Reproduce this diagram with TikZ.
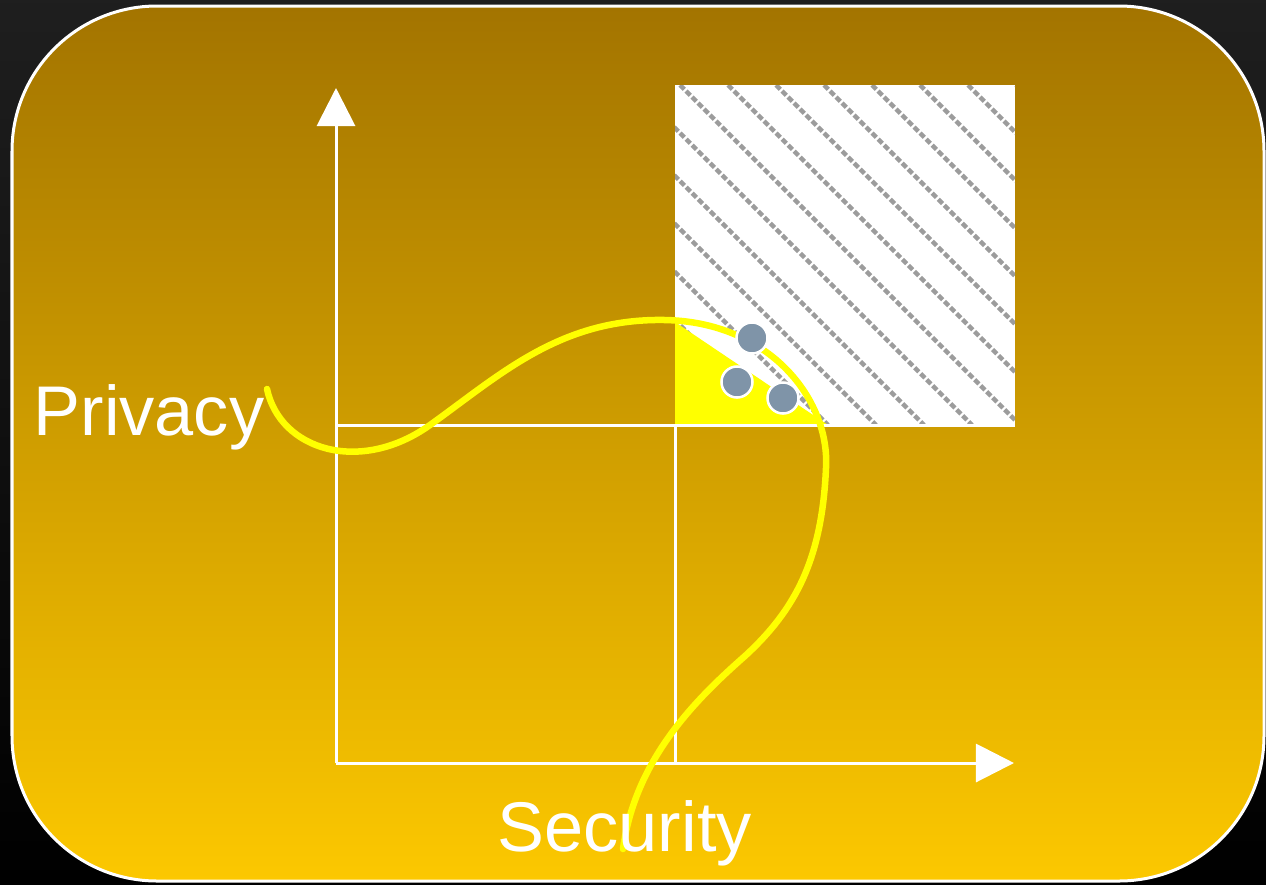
\documentclass[tikz,border=0pt]{standalone}
\usepackage{fontspec}
\setmainfont{Liberation Sans}
\usepackage{xcolor}
\definecolor{gtop}{HTML}{A37400}
\definecolor{gbot}{HTML}{FCC800}
\definecolor{dot}{HTML}{7F94A8}
\definecolor{hatch}{HTML}{9C9C9C}
\definecolor{curve}{HTML}{FFFF00}
\usetikzlibrary{arrows.meta,positioning,calc}

\begin{document}
\begin{tikzpicture}[
  x=0.01cm, y=-0.01cm, >={Triangle[length=0.38cm,width=0.38cm]},
  axis/.style={draw=white, line width=0.03cm},
  label/.style={text=white, font=\fontsize{20}{24}\selectfont, inner sep=0pt},
  point/.style={circle, draw=white, line width=0.025cm, fill=dot, minimum size=0.31cm, inner sep=0pt},
  hline/.style={draw=hatch, line width=0.045cm, dash pattern=on 0.06cm off 0.025cm},
]
  % background and panel
  \shade[top color=black!88, bottom color=black] (0,0) rectangle (1266,884);
  \shade[top color=gtop, bottom color=gbot, draw=white, line width=0.03cm,
    rounded corners=1.45cm] (12,6) rectangle (1264,881);

  \coordinate (O) at (336,763);
  \coordinate (ytip) at (336,88);
  \coordinate (xtip) at (1014,763);
  \coordinate (q) at (675,425);
  \coordinate (qx) at (336,425);
  \coordinate (qy) at (675,763);
  \coordinate (boxtr) at (1015,85);

  % hatched region
  \fill[white] (q) rectangle (boxtr);
  \begin{scope}
    \clip (q) rectangle (boxtr);
    \foreach \s in {-336,-288,...,336}
      \draw[hline] (680+\s,85) -- ++(340,340);
  \end{scope}
  \fill[curve] (675,322) -- (q) -- (828,425) -- cycle;

  % axes
  \draw[axis,->] (O) -- (ytip);
  \draw[axis,->] (O) -- (xtip);
  \draw[axis] (qx) -- (q) -- (qy);
  \draw[axis] (q) -- (1015,425);

  % curve
  \draw[curve, line width=0.065cm, line cap=round]
    (267,389) .. controls (280,450) and (360,475) .. (430,425)
    .. controls (500,375) and (560,318) .. (665,320)
    .. controls (770,322) and (830,400) .. (826,468)
    .. controls (822,560) and (795,610) .. (745,656)
    .. controls (695,700) and (635,760) .. (623,849);

  \node[point] (p1) at (752,338) {};
  \node[point] (p2) at (737,382) {};
  \node[point] (p3) at (783,398) {};

  \node[label, anchor=base west] (privacy) at (33,435) {Privacy};
  \node[label, anchor=base west] (security) at (497,851) {Security};
\end{tikzpicture}
\end{document}
